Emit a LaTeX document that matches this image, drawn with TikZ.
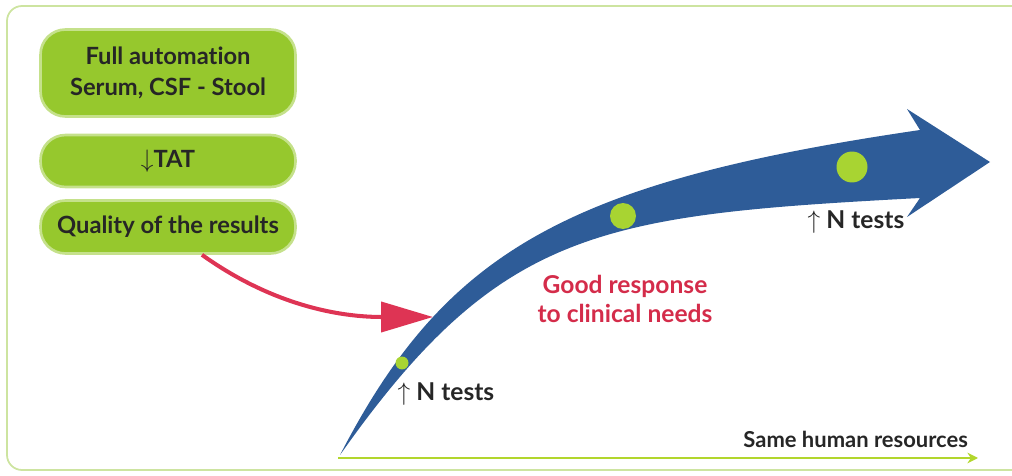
\documentclass[tikz,border=0pt]{standalone}
\usepackage{fontspec}
\setmainfont{Lato}[Ligatures=NoCommon]
\usetikzlibrary{arrows.meta}

\definecolor{bandblue}{RGB}{46,92,152}
\definecolor{boxgreen}{RGB}{150,200,45}
\definecolor{dotgreen}{RGB}{168,212,50}
\definecolor{arrowred}{RGB}{222,52,84}
\definecolor{textred}{RGB}{212,44,74}
\definecolor{framegreen}{RGB}{205,228,160}
\definecolor{axisgreen}{RGB}{178,214,45}
\definecolor{inkgray}{RGB}{38,38,38}

\tikzset{
  greenbox/.style={fill=boxgreen, draw=boxgreen!55!white, line width=1.5pt,
    rounded corners=0.5cm, minimum width=5.1cm, align=center, text=inkgray,
    font=\fontsize{13.5}{18}\selectfont\bfseries},
  tagtext/.style={text=inkgray, font=\fontsize{14}{16}\selectfont\bfseries, inner sep=1pt},
  greendot/.style={circle, fill=dotgreen, inner sep=0pt},
}

\begin{document}
\begin{tikzpicture}[x=0.02cm,y=-0.02cm]
    \useasboundingbox (0,0) rectangle (1012,476);
    % frame round the whole picture
    \draw[framegreen,line width=1pt,rounded corners=0.3cm] (7,6) rectangle (1040,470);

    % boxes on the left
    \node[greenbox,minimum height=1.74cm] (auto) at (168,73) {Full automation\\Serum, CSF - Stool};
    \node[greenbox,minimum height=1.04cm] (tat) at (168,161) {$\downarrow$TAT};
    \node[greenbox,minimum height=1.06cm] (quality) at (168,227) {Quality of the results};

    % axis
    \coordinate (origin) at (338,458);
    \coordinate (xend) at (978,458);
    \draw[axisgreen,line width=1.6pt,-{Stealth[length=6pt,width=6pt]}] (origin) -- (xend);
    \node[tagtext,font=\fontsize{12.5}{15}\selectfont\bfseries,anchor=south east] (human) at (970,450) {Same human resources};

    % the blue band
    \fill[bandblue] (340,455) .. controls (445,252) and (565,182) .. (920,130)
        -- (907,109) -- (990,162) -- (907,217) -- (920,198)
        .. controls (600,215) and (500,228) .. (340,455) -- cycle;
    \node[greendot,minimum size=0.26cm] (dot1) at (402,363) {};
    \node[greendot,minimum size=0.52cm] (dot2) at (623,216) {};
    \node[greendot,minimum size=0.62cm] (dot3) at (852,167) {};

    % red arrow
    \coordinate (hit) at (433,317);
    \draw[arrowred,line width=2.3pt,-{Triangle[length=1.04cm,width=0.6cm]}]
        ([xshift=0.68cm]quality.south) .. controls (265,300) and (330,317) .. (hit);

    % texts
    \node[tagtext] (ntests1) at (446,394) {$\uparrow$ N tests};
    \node[tagtext] (ntests2) at (856,222) {$\uparrow$ N tests};
    \node[tagtext,text=textred,align=center] (needs) at (625,299) {Good response\\to clinical needs};
\end{tikzpicture}
\end{document}
